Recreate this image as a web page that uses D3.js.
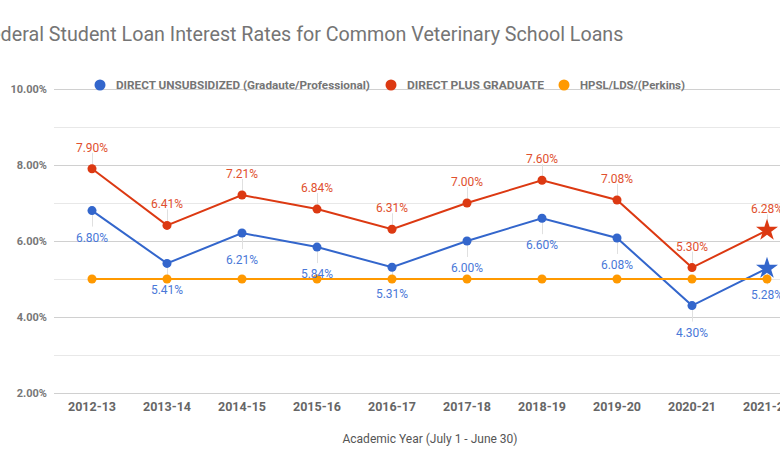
<!DOCTYPE html>
<html><head><meta charset="utf-8">
<script src="https://cdn.jsdelivr.net/npm/d3@7"></script>
<style>body{margin:0;background:#fff;overflow:hidden}text{font-family:Roboto,"Noto Sans",sans-serif}</style>
</head><body><svg id="c" width="780" height="470"></svg>
<script>
const years = ["2012-13","2013-14","2014-15","2015-16","2016-17","2017-18","2018-19","2019-20","2020-21","2021-22"];
const unsub = [6.80,5.41,6.21,5.84,5.31,6.00,6.60,6.08,4.30,5.28];
const plus = [7.90,6.41,7.21,6.84,6.31,7.00,7.60,7.08,5.30,6.28];
const perkins = [5,5,5,5,5,5,5,5,5,5];
const yTicks = [2,4,6,8,10];
const yGrid = [2,3,4,5,6,7,8,9,10];
const seriesNames = ["DIRECT UNSUBSIDIZED (Gradaute/Professional)","DIRECT PLUS GRADUATE","HPSL/LDS/(Perkins)"];
const colors = ["#3366cc","#dc3912","#ff9900"];

const svg = d3.select("#c");
const x = d3.scaleBand().domain(years).range([54.5, 804.5]);
const y = d3.scaleLinear().domain([2,10]).range([393, 89]);
const cx = d => x(d) + x.bandwidth()/2;

svg.append("text").attr("x",-20.5).attr("y",41).attr("font-size",19.7).attr("fill","#757575")
  .text("Federal Student Loan Interest Rates for Common Veterinary School Loans");

// grid
svg.append("g").selectAll("line").data(yGrid).join("line")
  .attr("x1",54).attr("x2",810).attr("y1",d=>y(d)+0.5).attr("y2",d=>y(d)+0.5)
  .attr("stroke",d=>d%2===0?"#d0d0d0":"#e8e8e8").attr("stroke-width",1);

// y axis labels
const yAxis = d3.axisLeft(y).tickValues(yTicks).tickFormat(d=>d3.format(".2f")(d)+"%").tickSize(0).tickPadding(7);
const ga = svg.append("g").attr("transform","translate(54,0)").call(yAxis);
ga.select(".domain").remove();
ga.selectAll("text").attr("font-size",11).attr("font-weight","bold").attr("fill","#777").attr("font-family","Roboto");

// x axis labels
const xAxis = d3.axisBottom(x).tickSize(0).tickPadding(9);
const gx = svg.append("g").attr("transform","translate(0,393)").call(xAxis);
gx.select(".domain").remove();
gx.selectAll("text").attr("font-size",12.5).attr("font-weight","bold").attr("fill","#666").attr("font-family","Roboto");

svg.append("text").attr("x",430).attr("y",443).attr("text-anchor","middle").attr("font-size",12).attr("fill","#555")
  .text("Academic Year (July 1 - June 30)");

const data = [unsub, plus, perkins];
const line = d3.line().x((d,i)=>cx(years[i])).y(d=>y(d));
const star = d3.symbol().type(d3.symbolStar).size(150);

// leader lines
[[unsub,1],[plus,-1]].forEach(([s,dir])=>{
  svg.append("g").selectAll("line").data(s).join("line")
    .attr("x1",(d,i)=>cx(years[i])+0.5).attr("x2",(d,i)=>cx(years[i])+0.5)
    .attr("y1",d=>y(d)).attr("y2",d=>y(d)+dir*16)
    .attr("stroke","#e0e0e0").attr("stroke-width",1);
});

[0,1,2].forEach(k=>{
  const s = data[k], c = colors[k];
  svg.append("path").datum(s).attr("d",line).attr("fill","none").attr("stroke",c).attr("stroke-width",2);
  const g = svg.append("g");
  s.forEach((v,i)=>{
    if (k<2 && i===s.length-1) {
      g.append("path").attr("d",star()).attr("transform",`translate(${cx(years[i])},${y(v)})`).attr("fill",c);
    } else {
      g.append("circle").attr("cx",cx(years[i])).attr("cy",y(v)).attr("r",4.5).attr("fill",c);
    }
  });
});

// data labels
svg.append("g").selectAll("text").data(unsub).join("text")
  .attr("x",(d,i)=>cx(years[i])).attr("y",d=>y(d)+31).attr("text-anchor","middle")
  .attr("font-size",12).attr("fill","#4a78d8").text(d=>d3.format(".2f")(d)+"%");
svg.append("g").selectAll("text").data(plus).join("text")
  .attr("x",(d,i)=>cx(years[i])).attr("y",d=>y(d)-17).attr("text-anchor","middle")
  .attr("font-size",12).attr("fill","#e0502e").text(d=>d3.format(".2f")(d)+"%");

// legend
const lx = [100, 391, 564];
const lw = [254, 137, 105];
seriesNames.forEach((n,i)=>{
  svg.append("circle").attr("cx",lx[i]).attr("cy",85).attr("r",5.5).attr("fill",colors[i]);
  svg.append("text").attr("x",lx[i]+16).attr("y",89).attr("font-size",11.6).attr("font-weight","bold")
    .attr("fill","#757575").attr("textLength",lw[i]).attr("lengthAdjust","spacingAndGlyphs").text(n);
});
</script></body></html>
